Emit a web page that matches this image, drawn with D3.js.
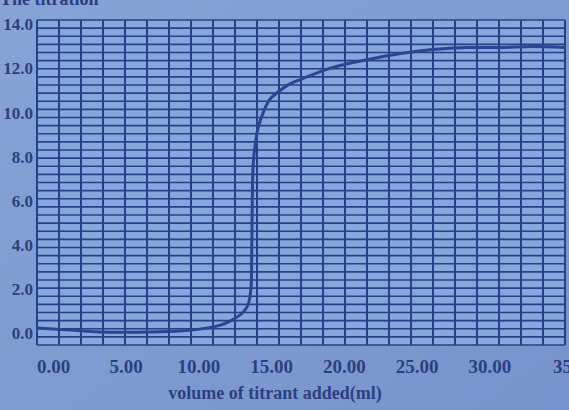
<!DOCTYPE html>
<html>
<head>
<meta charset="utf-8">
<script src="https://cdn.jsdelivr.net/npm/d3@7"></script>
<style>
  html, body { margin: 0; padding: 0; background: #7b99cf; }
  svg { display: block; }
</style>
</head>
<body>
<svg id="chart" width="569" height="410"></svg>
<script>
// ---- data ----
const volumeML = [-1.1, 1.2, 3.2, 6.7, 8.7, 10.1, 11.5, 12.3, 13.0, 13.4, 13.6, 13.66, 13.7, 13.76, 13.9, 14.1, 14.45, 14.9, 15.4, 16.2, 17.0, 19.25, 21.6, 23.9, 26.1, 28.5, 30.7, 33.0, 35.2];
const pHValues = [0.23, 0.14, 0.05, 0.05, 0.09, 0.18, 0.36, 0.59, 0.9, 1.27, 1.95, 3.5, 6.0, 7.6, 8.55, 9.3, 10.0, 10.6, 10.9, 11.27, 11.5, 12.05, 12.4, 12.68, 12.86, 12.95, 12.95, 13.0, 12.95];
const xTickValues = [0, 5, 10, 15, 20, 25, 30, 35];
const xTickLabels = ["0.00", "5.00", "10.00", "15.00", "20.00", "25.00", "30.00", "35"];
const yTickValues = [0, 2, 4, 6, 8, 10, 12, 14];
const yTickLabels = ["0.0", "2.0", "4.0", "6.0", "8.0", "10.0", "12.0", "14.0"];
const gridColumns = d3.range(25);   // 24 cells wide
const gridRows = d3.range(41);      // 40 cells high
const xTitle = "volume of titrant added(ml)";
const topCutText = "The titration";

(function () {
// ---- layout ----
const svg = d3.select("#chart");
const ink = "#27408a";
const textInk = "#2c3f82";
const pL = 37, pR = 565, pT = 20, pB = 345;
const serif = "'Liberation Serif', 'DejaVu Serif', serif";

const x = d3.scaleLinear().domain([-1.1, 35.2]).range([pL, pR]);
const y = d3.scaleLinear().domain([-0.54, 14.2]).range([pB, pT]);
const gx = d3.scaleLinear().domain([0, 24]).range([pL, pR]);
const gy = d3.scaleLinear().domain([0, 40]).range([pT, pB]);

// soft photo background
const defs = svg.append("defs");
const bg = defs.append("linearGradient").attr("id", "bg").attr("x1", 0).attr("y1", 0).attr("x2", 1).attr("y2", 1);
bg.append("stop").attr("offset", "0%").attr("stop-color", "#86a3d6");
bg.append("stop").attr("offset", "100%").attr("stop-color", "#7694cb");
svg.append("rect").attr("width", 569).attr("height", 410).attr("fill", "url(#bg)");

// grid cells
svg.append("rect")
  .attr("x", pL).attr("y", pT)
  .attr("width", pR - pL).attr("height", pB - pT)
  .attr("fill", "#87a6db");

// horizontal grid lines
svg.append("g").selectAll("line").data(gridRows).join("line")
  .attr("x1", pL).attr("x2", pR)
  .attr("y1", d => gy(d)).attr("y2", d => gy(d))
  .attr("stroke", ink).attr("stroke-width", 1.6);

// vertical grid lines
svg.append("g").selectAll("line").data(gridColumns).join("line")
  .attr("x1", d => gx(d)).attr("x2", d => gx(d))
  .attr("y1", pT).attr("y2", pB)
  .attr("stroke", ink).attr("stroke-width", 2);

// x axis labels
const xAxis = d3.axisBottom(x).tickValues(xTickValues)
  .tickFormat((d, i) => xTickLabels[i]).tickSize(0).tickPadding(0);
const gX = svg.append("g").attr("transform", `translate(0, ${pB + 14})`).call(xAxis);
gX.select(".domain").remove();
gX.selectAll("text")
  .attr("font-family", serif)
  .attr("font-weight", "bold").attr("font-size", 19).attr("fill", textInk);

// y axis labels
const yAxis = d3.axisLeft(y).tickValues(yTickValues)
  .tickFormat((d, i) => yTickLabels[i]).tickSize(0).tickPadding(0);
const gY = svg.append("g").attr("transform", `translate(33, 0)`).call(yAxis);
gY.select(".domain").remove();
gY.selectAll("text")
  .attr("font-family", serif)
  .attr("font-weight", "bold").attr("font-size", 17).attr("fill", textInk);

// titration curve
const pts = volumeML.map((v, i) => [v, pHValues[i]]);
const line = d3.line().x(d => x(d[0])).y(d => y(d[1])).curve(d3.curveCatmullRom.alpha(0.5));
svg.append("path").datum(pts)
  .attr("d", line).attr("fill", "none")
  .attr("stroke", "#2b4590").attr("stroke-width", 3);

// x title
svg.append("text")
  .attr("x", 275).attr("y", 399).attr("text-anchor", "middle")
  .attr("font-family", serif)
  .attr("font-weight", "bold").attr("font-size", 18).attr("fill", textInk)
  .text(xTitle);

// cut-off heading at the top edge (only its lower part shows, as in the photo)
svg.append("text")
  .attr("x", 0).attr("y", 5)
  .attr("font-family", serif)
  .attr("font-weight", "bold").attr("font-size", 18).attr("fill", textInk)
  .text(topCutText);
})();
</script>
</body>
</html>
